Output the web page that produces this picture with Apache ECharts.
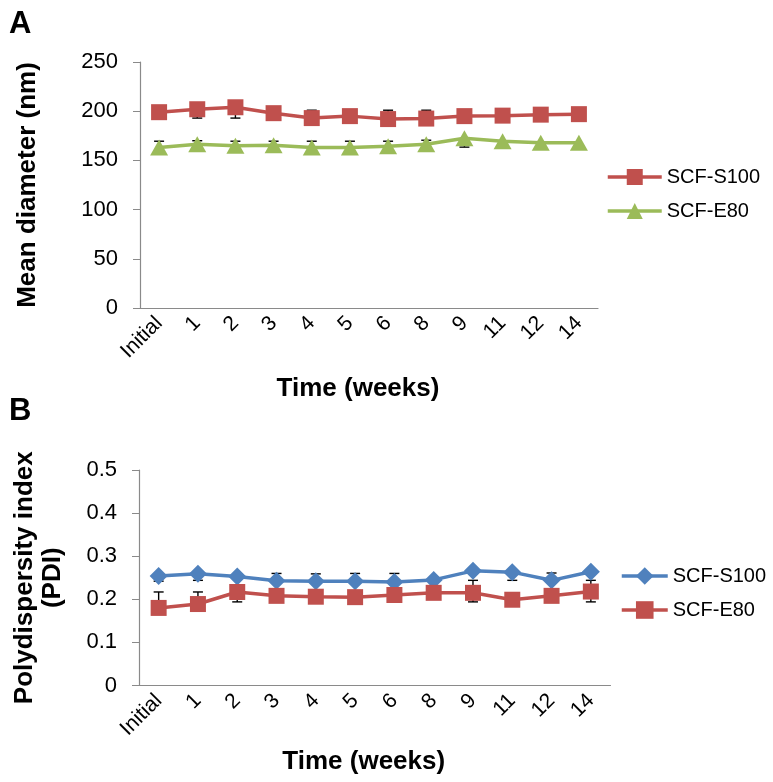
<!DOCTYPE html>
<html><head><meta charset="utf-8">
<script src="https://cdn.jsdelivr.net/npm/echarts@6/dist/echarts.min.js"></script>
<style>html,body{margin:0;padding:0;background:#fff}#c{width:773px;height:782px}</style>
</head><body><div id="c"></div>
<script>
// ---- data ----
const categories = ['Initial', '1', '2', '3', '4', '5', '6', '8', '9', '11', '12', '14'];
// Panel A: mean diameter (nm)
const diamS100 = [199, 202, 204, 198, 193, 195, 192, 192.5, 195, 195.5, 196.5, 197];
const diamS100Plus = [0, 0, 0, 0, 8, 0, 9, 8.5, 0, 0, 0, 0];
const diamS100Minus = [0, 9, 11, 0, 0, 0, 0, 0, 0, 0, 0, 0];
const diamE80 = [163, 166.5, 165, 165.5, 163, 163, 164.5, 166.5, 172.5, 169.5, 168, 168];
const diamE80Plus = [6.5, 3.5, 4.5, 4, 6.5, 6.5, 5, 4, 0, 0, 0, 0];
const diamE80Minus = [0, 0, 0, 0, 0, 0, 0, 0, 9, 0, 0, 0];
// Panel B: PDI
const pdiS100 = [0.254, 0.259, 0.253, 0.243, 0.242, 0.242, 0.240, 0.245, 0.266, 0.263, 0.244, 0.264];
const pdiS100Plus = [0, 0, 0.006, 0.017, 0.017, 0.018, 0.02, 0, 0, 0, 0.017, 0];
const pdiS100Minus = [0.012, 0.015, 0, 0, 0, 0, 0, 0, 0, 0.019, 0, 0];
const pdiE80 = [0.180, 0.189, 0.217, 0.208, 0.206, 0.205, 0.210, 0.215, 0.215, 0.199, 0.208, 0.218];
const pdiE80Plus = [0.037, 0.028, 0, 0, 0, 0, 0, 0, 0.029, 0, 0, 0.026];
const pdiE80Minus = [0, 0, 0.023, 0, 0, 0, 0, 0, 0.021, 0, 0, 0.024];
const seriesNames = ['SCF-S100', 'SCF-E80'];

// ---- styling ----
const FONT = '"Liberation Sans", Arial, Helvetica, sans-serif';
const RED = '#C0504D', GREEN = '#9BBB59', BLUE = '#4F81BD', AXIS = '#8a8a8a';

function errData(vals, plus, minus) {
  return vals.map((v, i) => [i, v - minus[i], v + plus[i], v]);
}
function errRender(params, api) {
  const x = api.value(0), lo = api.value(1), hi = api.value(2), mid = api.value(3);
  const pHi = api.coord([x, hi]), pLo = api.coord([x, lo]);
  const cap = 5;
  const st = { stroke: '#000', lineWidth: 1.4 };
  const ch = [];
  if (hi === lo) return { type: 'group', children: [] };
  ch.push({ type: 'line', shape: { x1: pHi[0], y1: pHi[1], x2: pLo[0], y2: pLo[1] }, style: st });
  if (hi > mid) ch.push({ type: 'line', shape: { x1: pHi[0] - cap, y1: pHi[1], x2: pHi[0] + cap, y2: pHi[1] }, style: st });
  if (lo < mid) ch.push({ type: 'line', shape: { x1: pLo[0] - cap, y1: pLo[1], x2: pLo[0] + cap, y2: pLo[1] }, style: st });
  return { type: 'group', children: ch };
}

function xAxisCfg(idx, gap) {
  return {
    type: 'category', gridIndex: idx, data: categories, boundaryGap: true,
    axisLine: { lineStyle: { color: AXIS, width: 1.2 } },
    axisTick: { show: false },
    axisLabel: { rotate: 45, interval: 0, margin: 12, fontSize: 21, color: '#000', fontFamily: FONT },
    splitLine: { show: false },
    name: 'Time (weeks)', nameLocation: 'middle', nameGap: gap,
    nameTextStyle: { fontSize: 26, fontWeight: 'bold', color: '#000', fontFamily: FONT, padding: [0, 22, 0, 0] }
  };
}
function yAxisCfg(idx, min, max, interval, name, gap, lh) {
  return {
    type: 'value', gridIndex: idx, min: min, max: max, interval: interval,
    axisLine: { show: true, lineStyle: { color: AXIS, width: 1.2 } },
    axisTick: { show: true, length: 7, lineStyle: { color: AXIS } },
    axisLabel: { margin: 22, fontSize: 22, color: '#000', fontFamily: FONT },
    splitLine: { show: false },
    name: name, nameLocation: 'middle', nameGap: gap,
    nameTextStyle: { fontSize: 26, fontWeight: 'bold', color: '#000', fontFamily: FONT, lineHeight: lh }
  };
}
function lineSeries(name, xi, data, color, symbol, size) {
  return {
    type: 'line', name: name, xAxisIndex: xi, yAxisIndex: xi, data: data,
    symbol: symbol, symbolSize: size, showSymbol: true, z: 3,
    lineStyle: { color: color, width: 3.5 }, itemStyle: { color: color },
    emphasis: { disabled: true }
  };
}
function errSeries(name, xi, data) {
  return {
    type: 'custom', name: name, xAxisIndex: xi, yAxisIndex: xi, data: data,
    renderItem: errRender, z: 1, encode: { x: 0, y: [1, 2] }, silent: true
  };
}
const legendText = { fontSize: 20, color: '#000', fontFamily: FONT };
const strip = n => n.replace(/^[AB]:/, '');

const option = {
  animation: false,
  backgroundColor: '#fff',
  grid: [
    { left: 140, top: 62, width: 458, height: 246 },
    { left: 139, top: 470, width: 471.5, height: 215.5 }
  ],
  xAxis: [xAxisCfg(0, 68), xAxisCfg(1, 63)],
  yAxis: [
    yAxisCfg(0, 0, 250, 50, 'Mean diameter (nm)', 98, 28),
    yAxisCfg(1, 0, 0.5, 0.1, 'Polydispersity index\n(PDI)', 72, 28)
  ],
  legend: [
    { orient: 'vertical', left: 606, top: 167, padding: 0, itemWidth: 54, itemHeight: 20, itemGap: 14,
      textStyle: legendText, formatter: strip, selectedMode: false, lineStyle: { width: 3.5 },
      data: ['A:' + seriesNames[0], 'A:' + seriesNames[1]] },
    { orient: 'vertical', left: 620, top: 566, padding: 0, itemWidth: 46, itemHeight: 22, itemGap: 14,
      textStyle: legendText, formatter: strip, selectedMode: false, lineStyle: { width: 3.5 },
      data: ['B:' + seriesNames[0], 'B:' + seriesNames[1]] }
  ],
  graphic: [
    { type: 'text', left: 9, top: 9, style: { text: 'A', font: 'bold 31px ' + FONT, fill: '#000' } },
    { type: 'text', left: 9, top: 396, style: { text: 'B', font: 'bold 31px ' + FONT, fill: '#000' } }
  ],
  series: [
    errSeries('errA1', 0, errData(diamS100, diamS100Plus, diamS100Minus)),
    errSeries('errA2', 0, errData(diamE80, diamE80Plus, diamE80Minus)),
    lineSeries('A:' + seriesNames[0], 0, diamS100, RED, 'rect', 16),
    lineSeries('A:' + seriesNames[1], 0, diamE80, GREEN, 'triangle', [18, 16]),
    errSeries('errB1', 1, errData(pdiS100, pdiS100Plus, pdiS100Minus)),
    errSeries('errB2', 1, errData(pdiE80, pdiE80Plus, pdiE80Minus)),
    lineSeries('B:' + seriesNames[0], 1, pdiS100, BLUE, 'diamond', [18, 18]),
    lineSeries('B:' + seriesNames[1], 1, pdiE80, RED, 'rect', 16)
  ]
};
const chart = echarts.init(document.getElementById('c'), null, { renderer: 'canvas' });
chart.setOption(option);
</script>
</body></html>
